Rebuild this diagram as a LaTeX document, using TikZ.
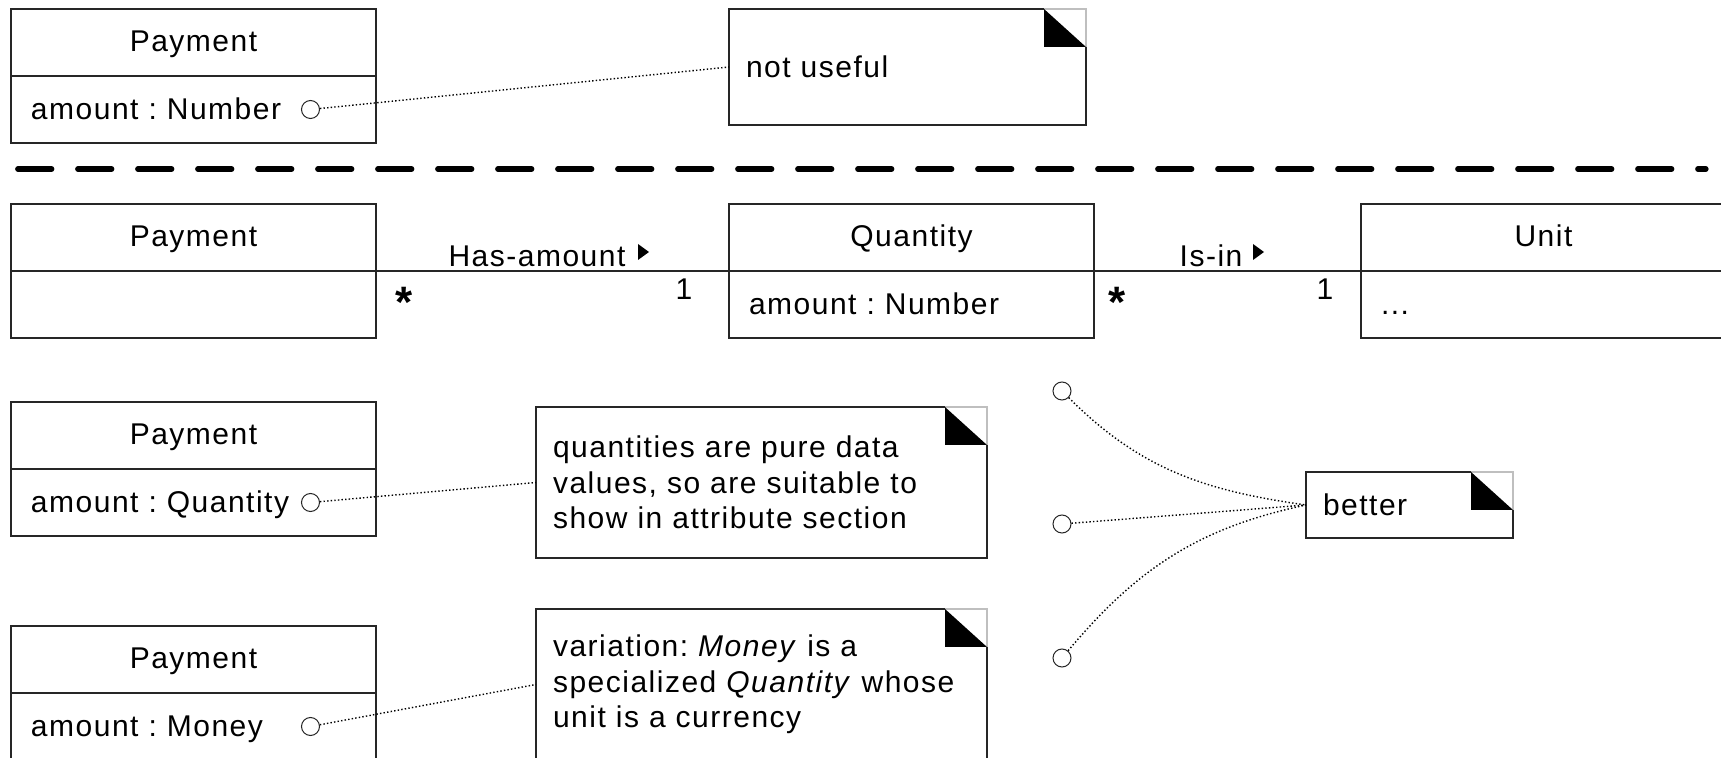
\documentclass[tikz,border=0pt]{standalone}
\usepackage{fontspec}
\setmainfont{Liberation Sans}[LetterSpace=5, WordSpace=1.25]
\usetikzlibrary{positioning}
\frenchspacing

\begin{document}
\begin{tikzpicture}[x=0.5pt, y=-0.5pt,
  every node/.style={font=\fontsize{15}{17.75}\selectfont},
  clshead/.style={draw=black!85, line width=0.6pt, minimum width=182.5pt, minimum height=33.5pt, inner sep=0pt, outer sep=0pt, text height=10.5pt, text depth=1pt},
  clsbody/.style={draw=black!85, line width=0.6pt, minimum width=182.5pt, minimum height=33.5pt, text width=162.5pt, inner xsep=10pt, inner ysep=0pt, outer sep=0pt, align=left, text height=10.5pt, text depth=0.5pt},
  note/.style={draw=black!85, line width=0.6pt, inner xsep=8.5pt, inner ysep=0pt, outer sep=0pt, align=left},
  lolly/.style={circle, draw=black!85, line width=0.5pt, minimum size=9pt, inner sep=0pt},
  anchorline/.style={black, line width=0.7pt, dash pattern=on 0.7pt off 1.1pt},
  assoc/.style={black!85, line width=0.6pt},
  role/.style={inner sep=0pt, anchor=base},
  mult/.style={inner sep=0pt, anchor=base},
  many/.style={font=\fontsize{22}{24}\bfseries, inner sep=0pt, anchor=base},
  separator/.style={line width=2.6pt, line cap=round, dash pattern=on 17pt off 13pt},
]
\useasboundingbox (0,0) rectangle (1721,758);

% --- top: amount as a plain number ---
\node[clshead] (pay1) at (193.5,42.5) {Payment};
\node[clsbody, below=0pt of pay1] (pay1b) {amount : Number};
\node[lolly, left=28pt of pay1b.east] (dot1) {};
\node[note, minimum width=178.5pt, minimum height=58pt, text width=161.5pt] (nuse) at (907.5,67) {not useful};
\draw[anchorline] (dot1) -- (nuse.west);

% separator
\coordinate (sepl) at (17.75,169);
\coordinate (sepr) at (1706,169);
\draw[separator] (sepl) -- (sepr);

% --- Quantity as its own class ---
\node[clshead] (pay2) at (193.5,237.5) {Payment};
\node[clsbody, below=0pt of pay2] (pay2b) {};
\node[clshead] (qty) at (911.5,237.5) {Quantity};
\node[clsbody, below=0pt of qty] (qtyb) {amount : Number};
\node[clshead] (unit) at (1543.5,237.5) {Unit};
\node[clsbody, below=0pt of unit] (unitb) {...};

\draw[assoc] (pay2.south east) -- (qty.south west);
\draw[assoc] (qty.south east) -- (unit.south west);

\node[role] (hasl) at (537,267) {Has-amount};
\coordinate (hasdir) at (643,252);
\fill (hasdir) ++(-5,-8) -- ++(11,8) -- ++(-11,8) -- cycle;
\node[many] (m1) at (404,318) {*};
\node[mult] (o1) at (684,300) {1};

\node[role] (isl) at (1211,267) {Is-in};
\coordinate (isdir) at (1258,252);
\fill (isdir) ++(-5,-8) -- ++(11,8) -- ++(-11,8) -- cycle;
\node[many] (m2) at (1117,318) {*};
\node[mult] (o2) at (1325,300) {1};

% --- amount : Quantity ---
\node[clshead] (pay3) at (193.5,435.5) {Payment};
\node[clsbody, below=0pt of pay3] (pay3b) {amount : Quantity};
\node[lolly, left=28pt of pay3b.east] (dot3) {};
\node[note, minimum width=225.5pt, minimum height=75.5pt, text width=208.5pt] (nquant) at (761.5,482.5) {quantities are pure data\\values, so are suitable to\\show in attribute section};
\draw[anchorline] (dot3) -- (nquant.west);

% --- amount : Money ---
\node[clshead] (pay4) at (193.5,659.5) {Payment};
\node[clsbody, below=0pt of pay4] (pay4b) {amount : Money};
\node[lolly, left=28pt of pay4b.east] (dot4) {};
\node[note, minimum width=225.5pt, minimum height=75.5pt, text width=208.5pt] (nmoney) at (761.5,684.5) {variation: \textit{Money} is a\\specialized \textit{Quantity} whose\\unit is a currency};
\draw[anchorline] (dot4) -- (nmoney.west);

% --- better ---
\node[note, minimum width=103.5pt, minimum height=33pt, text width=86.5pt] (nbetter) at (1409.5,505) {better};
\node[lolly] (opt1) at (1062,391) {};
\node[lolly] (opt2) at (1062,524) {};
\node[lolly] (opt3) at (1062,658) {};
\draw[anchorline] (opt1) to[out=-45, in=172] (nbetter.west);
\draw[anchorline] (opt2) -- (nbetter.west);
\draw[anchorline] (opt3) to[out=50, in=192] (nbetter.west);

% folded corners
\foreach \n in {nuse,nquant,nmoney,nbetter}{
  \draw[black!25, line width=0.6pt] ([xshift=-21pt]\n.north east) -- (\n.north east) -- ([yshift=-19pt]\n.north east);
  \fill ([xshift=-21pt]\n.north east) -- ([xshift=-21pt,yshift=-19pt]\n.north east) -- ([yshift=-19pt]\n.north east) -- cycle;
}
\end{tikzpicture}
\end{document}
